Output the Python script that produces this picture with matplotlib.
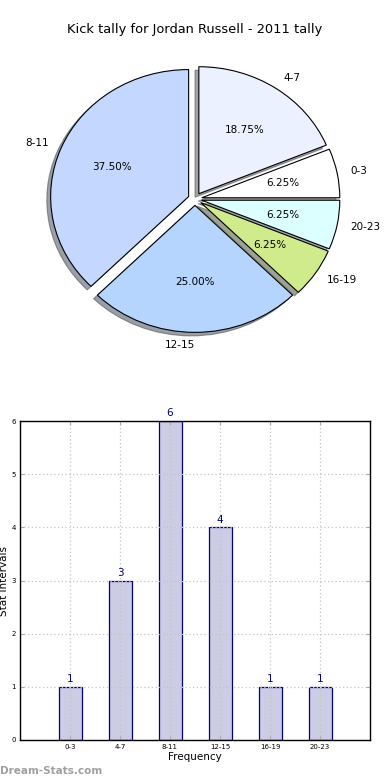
import matplotlib
matplotlib.use("Agg")
import matplotlib.pyplot as plt
import numpy as np

# Data
pie_labels = ["4-7", "0-3", "20-23", "16-19", "12-15", "8-11"]
pie_values = [3, 1, 1, 1, 4, 6]
pie_colors = ["#ebf1ff", "#ffffff", "#dcffff", "#d0eb8c", "#b5d5ff", "#c4d8ff"]

bar_labels = ["0-3", "4-7", "8-11", "12-15", "16-19", "20-23"]
bar_values = [1, 3, 6, 4, 1, 1]

title = "Kick tally for Jordan Russell - 2011 tally"

fig = plt.figure(figsize=(3.9, 7.8), dpi=100)

# Pie axes
cx, cy, sx, sy = 195, 199, 138, 127
axp = fig.add_axes([0, 420/780, 1, 320/780])
wedges, texts, autotexts = axp.pie(
    pie_values, labels=pie_labels, colors=pie_colors, autopct="%.2f%%",
    startangle=90, counterclock=False, explode=[0.05]*6, shadow=True,
    wedgeprops=dict(edgecolor="black", linewidth=0.8),
    textprops=dict(fontsize=7.5), labeldistance=1.1, pctdistance=0.6)
axp.set_aspect("auto")
axp.set_xlim(-cx/sx, (390 - cx)/sx)
top = (cy - 40)/sy
bot = (360 - cy)/sy
axp.set_ylim(-bot, top)
axp.axis("off")

fig.text(0.5, 1 - 30/780, title, ha="center", va="center", fontsize=9.4)

# Bar axes
axb = fig.add_axes([20/390, 40/780, 350/390, 319/780])
x = np.arange(len(bar_labels))
axb.bar(x, bar_values, width=0.46, color="#cccce4", edgecolor="#000080", linewidth=0.9, zorder=2)
for xi, v in zip(x, bar_values):
    axb.text(xi, v + 0.05, str(v), ha="center", va="bottom", color="#000080", fontsize=7.5)
axb.set_xlim(-1, 6)
axb.set_ylim(0, 6)
axb.set_xticks(x)
axb.set_xticklabels(bar_labels, fontsize=5)
axb.set_yticks(range(7))
axb.set_yticklabels([str(i) for i in range(7)], fontsize=5)
axb.grid(True, linestyle=(0, (1, 2)), color="#c4c4c4", linewidth=0.9, zorder=3)
axb.set_axisbelow(False)
axb.tick_params(direction="in", length=3, color="#aaaaaa", top=True, right=True, pad=3)
axb.set_xlabel("Frequency", fontsize=7.5, labelpad=1)
axb.set_ylabel("Stat Intervals", fontsize=7.5)
axb.yaxis.set_label_coords(-11/350, 0.5)
for s in axb.spines.values():
    s.set_linewidth(1.0)
    s.set_zorder(6)

fig.text(0.0, 1 - 771/780, "Dream-Stats.com", ha="left", va="center", fontsize=7.5,
         color="#a0a0a0", fontweight="bold")

fig.savefig("out.png", dpi=100)
